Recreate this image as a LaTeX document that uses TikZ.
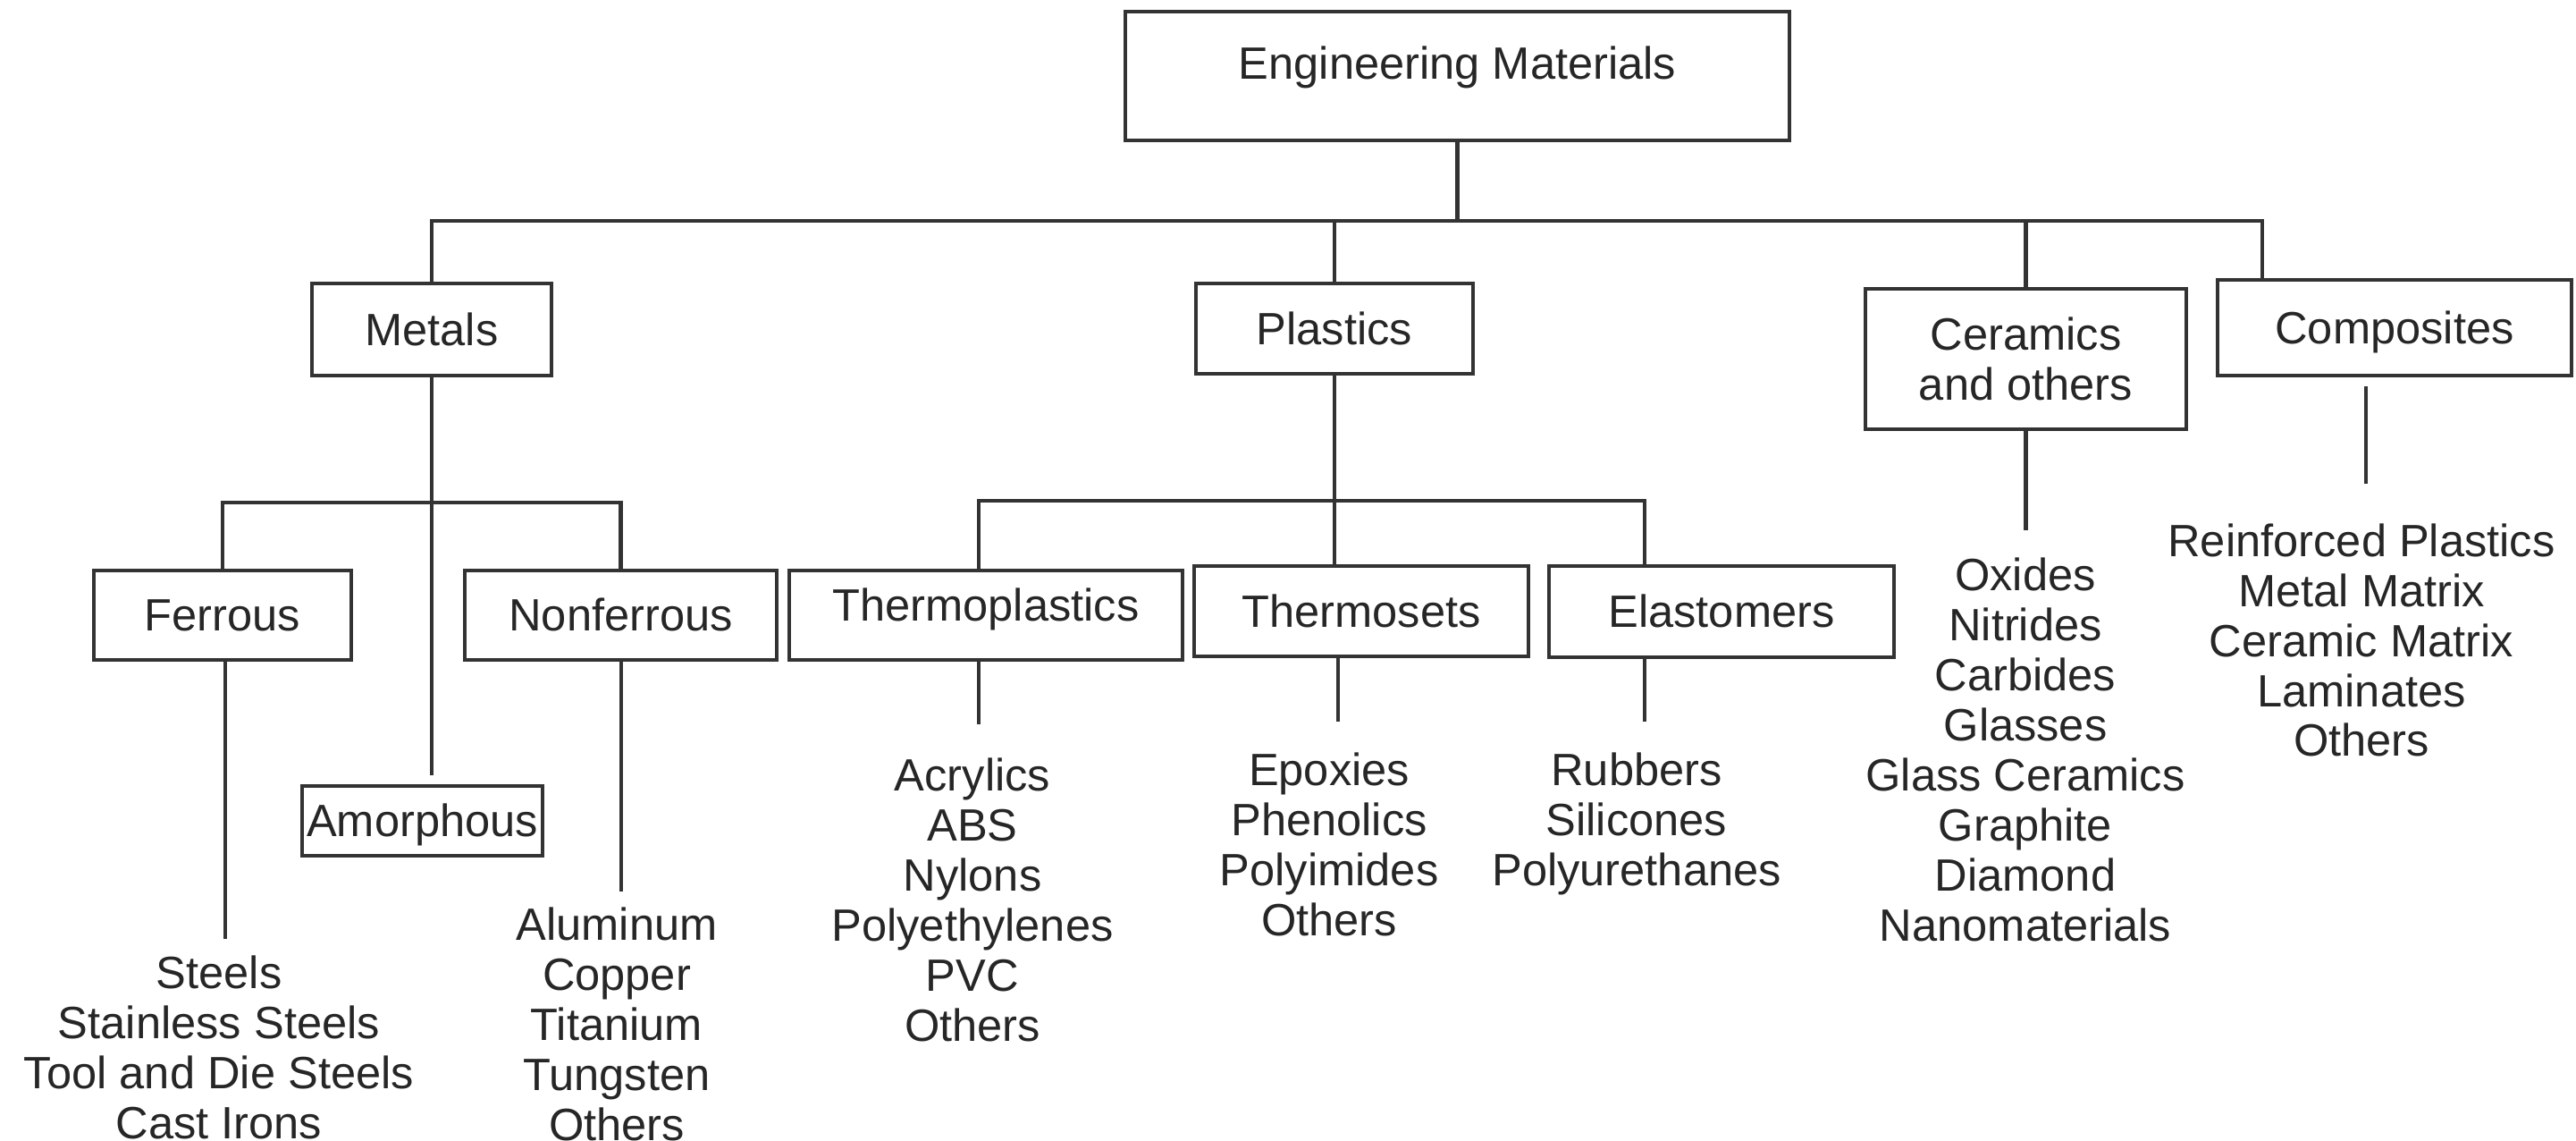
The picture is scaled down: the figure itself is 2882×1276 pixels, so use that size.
\documentclass[tikz,border=0pt]{standalone}
\usepackage{fontspec}
\setmainfont{Liberation Sans}
\begin{document}
\begin{tikzpicture}[
x=0.1mm,y=-0.1mm,
line width=0.45mm,draw=black!80,
every node/.style={font=\fontsize{14.4}{15.9}\selectfont,text=black!85,inner sep=0pt},
box/.style={draw=black!80,text height=3.6mm,text depth=0pt},
items/.style={align=center,anchor=base}
]
\useasboundingbox (0,0) rectangle (2882,1276);
% boxes
\node[box,minimum width=74.3mm,minimum height=14.4mm,text depth=2.8mm](em) at (1630.5,85){Engineering Materials};
\node[box,minimum width=26.8mm,minimum height=10.3mm](metals) at (483,368.5){Metals};
\node[box,minimum width=31mm,minimum height=10.1mm](plastics) at (1493,367.5){Plastics};
\node[draw=black!80,align=center,minimum width=35.9mm,minimum height=15.7mm](ceramics) at (2266.5,401.5){Ceramics\\and others};
\node[box,minimum width=39.6mm,minimum height=10.7mm](composites) at (2679,366.5){Composites};
\node[box,minimum width=28.8mm,minimum height=10mm](ferrous) at (249,688){Ferrous};
\node[box,minimum width=34.9mm,minimum height=10mm](nonferrous) at (694.5,688){Nonferrous};
\node[box,minimum width=26.9mm,minimum height=7.8mm](amorphous) at (472.5,918){Amorphous};
\node[box,minimum width=44mm,minimum height=10mm,text depth=2.2mm](tplastics) at (1103,688){Thermoplastics};
\node[box,minimum width=37.4mm,minimum height=10.1mm](thermosets) at (1523,683.5){Thermosets};
\node[box,minimum width=38.6mm,minimum height=10.2mm](elastomers) at (1926,684){Elastomers};
% lists (base = last line)
\node[items](felist) at (245,1273){Steels\\Stainless Steels\\Tool and Die Steels\\Cast Irons};
\node[items](nflist) at (690,1275){Aluminum\\Copper\\Titanium\\Tungsten\\Others};
\node[items](tplist) at (1088,1164){Acrylics\\ABS\\Nylons\\Polyethylenes\\PVC\\Others};
\node[items](tslist) at (1487,1046){Epoxies\\Phenolics\\Polyimides\\Others};
\node[items](ellist) at (1831,990){Rubbers\\Silicones\\Polyurethanes};
\node[items](celist) at (2266,1052){Oxides\\Nitrides\\Carbides\\Glasses\\Glass Ceramics\\Graphite\\Diamond\\Nanomaterials};
\node[items](colist) at (2642,846){Reinforced Plastics\\Metal Matrix\\Ceramic Matrix\\Laminates\\Others};
% joints and stub ends
\coordinate (bus) at (1630.5,247);
\coordinate (compin) at (2531,313);
\coordinate (mbus) at (483,562);
\coordinate (amor) at (483,867);
\coordinate (pbus) at (1493,560);
\coordinate (elin) at (1840,633);
\coordinate (fe) at (252,1050);
\coordinate (nf) at (695,997);
\coordinate (tp) at (1095,810);
\coordinate (ts) at (1497,807);
\coordinate (el) at (1840,807);
\coordinate (ce) at (2266.5,593);
\coordinate (co) at (2647,541);
% connectors
\draw (em.south) -- (bus);
\draw (metals.north) |- (bus) -| (compin);
\draw (plastics.north) -- (plastics.north |- bus);
\draw (ceramics.north) -- (ceramics.north |- bus);
\draw (metals.south) -- (amor);
\draw (ferrous.north) |- (mbus) -| (nonferrous.north);
\draw (plastics.south) -- (plastics.south |- thermosets.north);
\draw (tplastics.north -| tp) |- (pbus) -| (elin);
\draw (ferrous.south -| fe) -- (fe);
\draw (nonferrous.south -| nf) -- (nf);
\draw (tplastics.south -| tp) -- (tp);
\draw (thermosets.south -| ts) -- (ts);
\draw (elastomers.south -| el) -- (el);
\draw (ceramics.south) -- (ce);
\draw ([yshift=-1mm]composites.south -| co) -- (co);
\end{tikzpicture}
\end{document}
